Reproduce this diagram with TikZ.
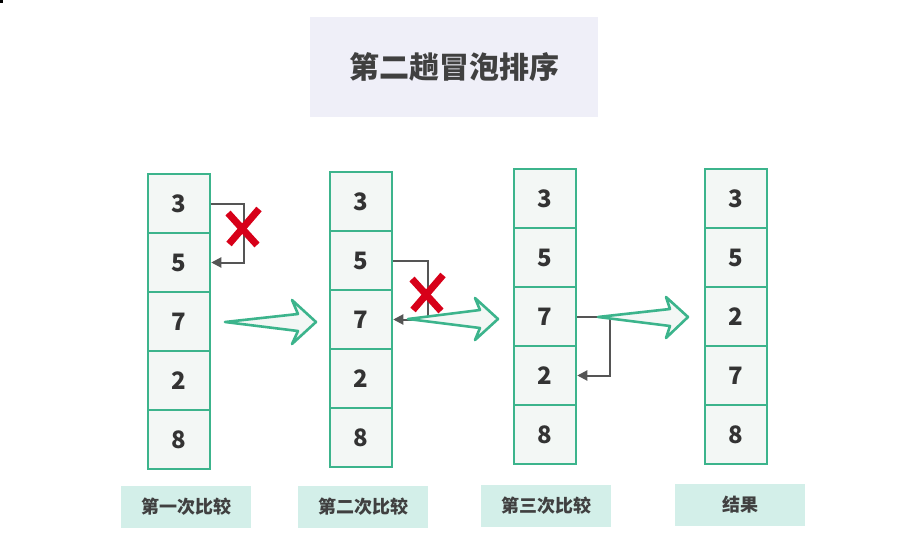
\documentclass[tikz,border=0pt]{standalone}
\usepackage{fontspec}
\setmainfont{Noto Sans CJK SC}
\usetikzlibrary{arrows.meta}
\definecolor{grn}{RGB}{60,180,140}
\definecolor{cellbg}{RGB}{243,247,245}
\definecolor{lblbg}{RGB}{211,239,233}
\definecolor{ttlbg}{RGB}{239,239,248}
\definecolor{txt}{RGB}{64,64,64}
\definecolor{conn}{RGB}{85,85,85}
\definecolor{xred}{RGB}{215,0,25}
\tikzset{
  cell/.style={draw=grn,fill=cellbg,line width=2.5pt,minimum width=62pt,minimum height=59pt,inner sep=0pt,
    font=\fontsize{24}{24}\selectfont\bfseries,text=txt!80!black},
  lbl/.style={fill=lblbg,minimum width=130pt,minimum height=42pt,inner sep=0pt,
    font=\fontsize{18}{18}\selectfont\bfseries,text=txt},
  ttl/.style={fill=ttlbg,minimum width=288pt,minimum height=100pt,inner sep=0pt,
    font=\fontsize{30}{30}\selectfont\bfseries,text=txt},
  link/.style={draw=conn,line width=2pt,-{Triangle[length=10pt,width=10pt]}},
  bigarrow/.style={draw=grn,fill=cellbg,line width=2.6pt,line join=round},
  xstroke/.style={draw=xred,line width=7pt},
}
\begin{document}
\begin{tikzpicture}[x=1pt,y=-1pt]
\useasboundingbox (0,0) rectangle (898,535);
\fill[black] (0,0) rectangle (3,3);
% title
\node[ttl] (title) at (454,67) {第二趟冒泡排序};
% columns
\foreach \c/\lx/\ty/\a/\b/\cc/\d/\e in {1/148/174/3/5/7/2/8, 2/330/172/3/5/7/2/8, 3/514/169/3/5/7/2/8, 4/705/169/3/5/2/7/8}{
  \foreach \i/\v in {1/\a,2/\b,3/\cc,4/\d,5/\e}{
    \node[cell] (c\c-\i) at ({\lx+31},{\ty+59*(\i-0.5)}) {\v};
  }
}
% connectors
\draw[link] (c1-1.east) -- ++(33,0) |- (c1-2.east);
\draw[link] (c2-2.east) -- ++(35,0) |- (c2-3.east);
\draw[link] (c3-3.east) -- ++(33,0) |- (c3-4.east);
% red crosses
\foreach \cx/\cy in {243/227, 427/293}{
  \begin{scope}[shift={(\cx,\cy)}]
    \draw[xstroke] (-15,-14) -- (14,18);
    \draw[xstroke] (16,-18) -- (-14,17);
  \end{scope}
}
% big arrows
\draw[bigarrow] (225,322) -- (298,314) -- (292,300) -- (316,322) -- (292,344) -- (298,331) -- cycle;
\draw[bigarrow] (408,319) -- (480,310) -- (475,298) -- (498,319) -- (475,340) -- (480,328) -- cycle;
\draw[bigarrow] (598,317) -- (670,309) -- (666,297) -- (688,317) -- (666,338) -- (670,326) -- cycle;
% labels
\node[lbl] (l1) at (186,507) {第一次比较};
\node[lbl] (l2) at (363,507) {第二次比较};
\node[lbl] (l3) at (546,506) {第三次比较};
\node[lbl] (l4) at (740,505) {结果};
\end{tikzpicture}
\end{document}
